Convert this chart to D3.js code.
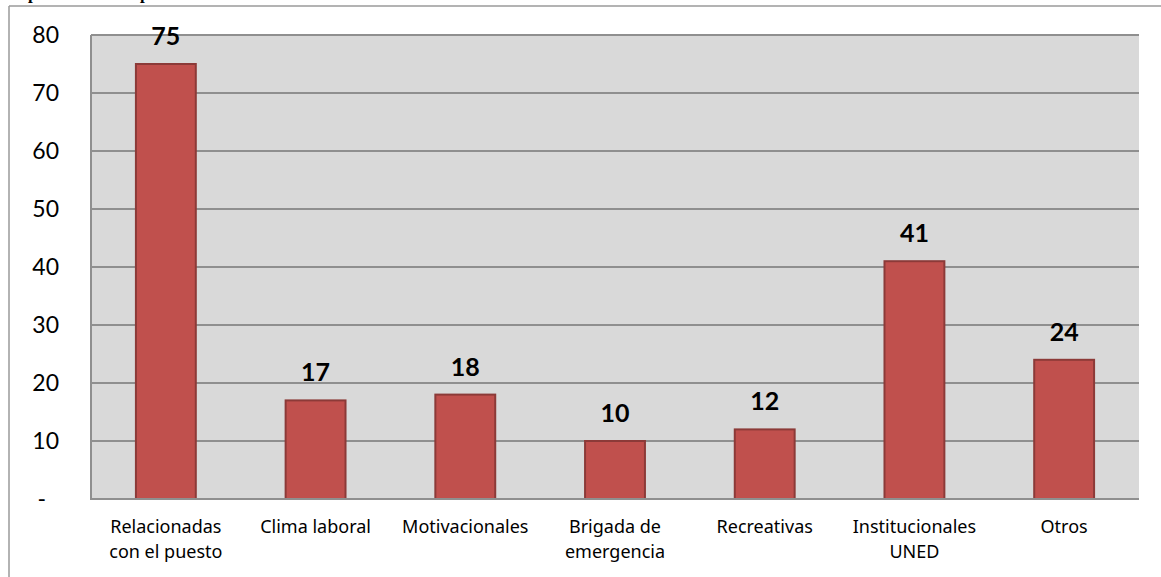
<!DOCTYPE html>
<html>
<head>
<meta charset="utf-8">
<script src="https://cdn.jsdelivr.net/npm/d3@7"></script>
<style>
  html, body { margin: 0; padding: 0; background: #ffffff; }
  svg { display: block; }
</style>
</head>
<body>
<svg id="chart" width="1161" height="577"></svg>
<script>
// Activity categories (each label split into lines) and their counts
const categories = [
  ["Relacionadas", "con el puesto"],
  ["Clima laboral"],
  ["Motivacionales"],
  ["Brigada de", "emergencia"],
  ["Recreativas"],
  ["Institucionales", "UNED"],
  ["Otros"]
];
const values = [75, 17, 18, 10, 12, 41, 24];
const yTicks = [0, 10, 20, 30, 40, 50, 60, 70, 80];

const W = 1161, H = 577;
const plot = { left: 91, top: 35, right: 1139, bottom: 499 };

const svg = d3.select("#chart");

// Surrounding frame of the figure (top and left edges visible)
svg.append("line").attr("x1", 9).attr("x2", W).attr("y1", 6).attr("y2", 6)
  .attr("stroke", "#9a9a9a").attr("stroke-width", 1.5);
svg.append("line").attr("x1", 9).attr("x2", 9).attr("y1", 6).attr("y2", H)
  .attr("stroke", "#9a9a9a").attr("stroke-width", 1.5);

// Tail of the heading line above the figure
const heading = svg.append("g")
  .attr("font-family", "'Liberation Serif', 'DejaVu Serif', serif")
  .attr("font-weight", "bold").attr("font-size", 17).attr("fill", "#000");
heading.append("text").attr("x", 28).attr("y", -1).text("p");
heading.append("text").attr("x", 140).attr("y", -1).text("p");

const x = d3.scaleBand()
  .domain(d3.range(categories.length))
  .range([plot.left, plot.right])
  .padding(0);

const y = d3.scaleLinear()
  .domain([0, 80])
  .range([plot.bottom, plot.top]);

// Plot background
svg.append("rect")
  .attr("x", plot.left).attr("y", plot.top)
  .attr("width", plot.right - plot.left).attr("height", plot.bottom - plot.top)
  .attr("fill", "#d9d9d9");

// Horizontal gridlines
svg.append("g").selectAll("line")
  .data(yTicks.filter(d => d > 0))
  .join("line")
  .attr("x1", plot.left).attr("x2", plot.right)
  .attr("y1", d => y(d)).attr("y2", d => y(d))
  .attr("stroke", "#8f8f8f").attr("stroke-width", 2);

// Y axis with values, zero shown as a dash
const yAxis = d3.axisLeft(y)
  .tickValues(yTicks)
  .tickSize(0)
  .tickPadding(32)
  .tickFormat(d => d === 0 ? "-" : d3.format("d")(d));

const gy = svg.append("g")
  .attr("transform", `translate(${plot.left},0)`)
  .call(yAxis);
gy.select(".domain").remove();
gy.selectAll("text")
  .attr("font-family", "Lato, 'Open Sans', sans-serif")
  .attr("font-size", 23)
  .attr("fill", "#000");
gy.selectAll(".tick").filter(d => d === 0).select("text")
  .attr("dx", -13);

// Bars
const barW = x.bandwidth() * 0.4;
svg.append("g").selectAll("rect")
  .data(values)
  .join("rect")
  .attr("x", (d, i) => x(i) + (x.bandwidth() - barW) / 2)
  .attr("y", d => y(d))
  .attr("width", barW)
  .attr("height", d => y(0) - y(d))
  .attr("fill", "#c0504d")
  .attr("stroke", "#8c3a38")
  .attr("stroke-width", 2);

// Axis lines
svg.append("line")
  .attr("x1", plot.left).attr("x2", plot.left)
  .attr("y1", plot.top).attr("y2", plot.bottom + 1)
  .attr("stroke", "#8f8f8f").attr("stroke-width", 2);
svg.append("line")
  .attr("x1", plot.left).attr("x2", plot.right)
  .attr("y1", plot.bottom).attr("y2", plot.bottom)
  .attr("stroke", "#8f8f8f").attr("stroke-width", 2);

// Value labels above bars
svg.append("g").selectAll("text")
  .data(values)
  .join("text")
  .attr("x", (d, i) => x(i) + x.bandwidth() / 2)
  .attr("y", d => y(d) - 19)
  .attr("text-anchor", "middle")
  .attr("font-family", "Lato, 'Open Sans', sans-serif")
  .attr("font-weight", "bold")
  .attr("font-size", 25)
  .attr("fill", "#000")
  .text(d => d);

// Category labels below the axis
const cat = svg.append("g").selectAll("text")
  .data(categories)
  .join("text")
  .attr("x", (d, i) => x(i) + x.bandwidth() / 2)
  .attr("y", 533)
  .attr("text-anchor", "middle")
  .attr("font-family", "'Noto Sans', 'Open Sans', sans-serif")
  .attr("font-size", 18)
  .attr("fill", "#000");
cat.selectAll("tspan")
  .data(d => d)
  .join("tspan")
  .attr("x", function() { return d3.select(this.parentNode).attr("x"); })
  .attr("dy", (d, i) => i === 0 ? 0 : 25)
  .text(d => d);
</script>
</body>
</html>
